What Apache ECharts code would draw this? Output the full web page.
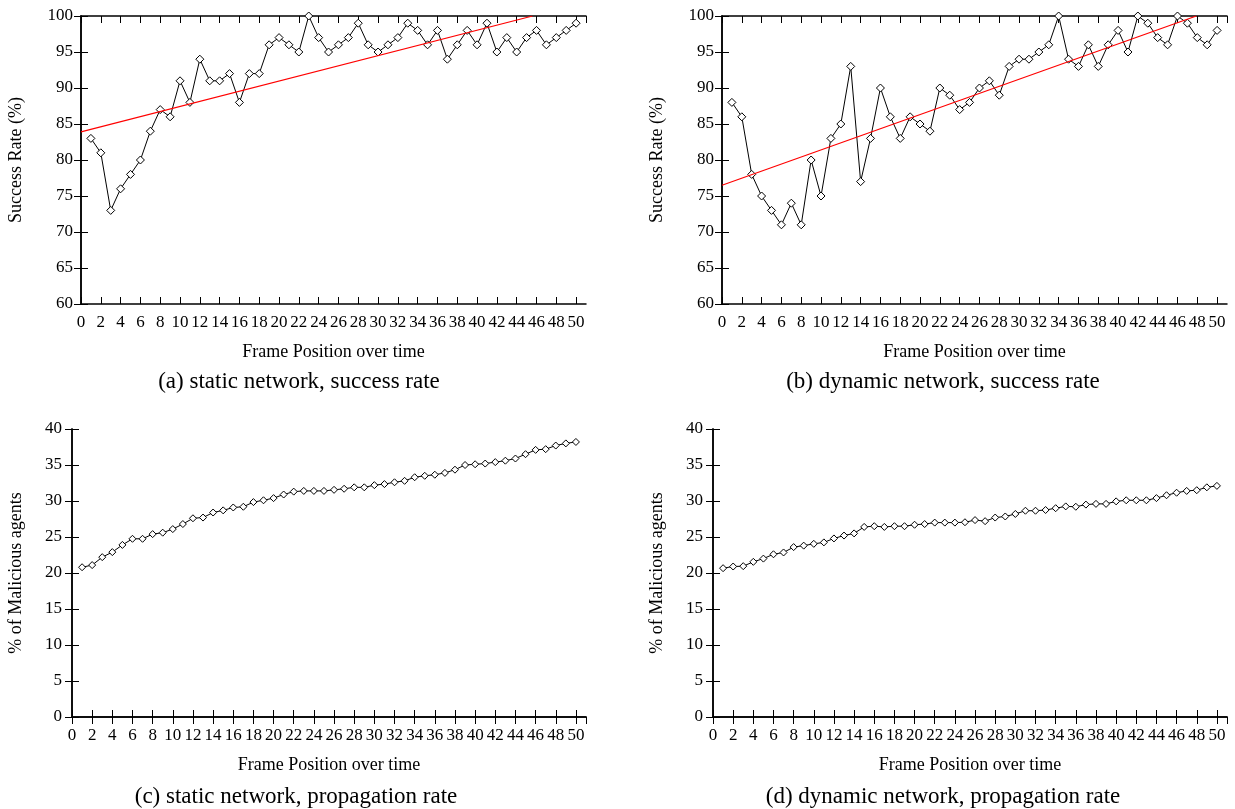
<!DOCTYPE html>
<html>
<head>
<meta charset="utf-8">
<title>Success and propagation rate</title>
<script src="https://cdn.jsdelivr.net/npm/echarts@6/dist/echarts.min.js"></script>
<style>
    html, body { margin: 0; padding: 0; background: #fff; }
    #chart { width: 1235px; height: 809px; }
</style>
</head>
<body>
<div id="chart"></div>
<script>
    // frame positions (x)
    var frames = [1, 2, 3, 4, 5, 6, 7, 8, 9, 10, 11, 12, 13, 14, 15, 16, 17, 18, 19, 20, 21, 22, 23, 24, 25,
        26, 27, 28, 29, 30, 31, 32, 33, 34, 35, 36, 37, 38, 39, 40, 41, 42, 43, 44, 45, 46, 47, 48, 49, 50];

    // (a) static network, success rate
    var staticSuccess = [83, 81, 73, 76, 78, 80, 84, 87, 86, 91, 88, 94, 91, 91, 92, 88, 92, 92, 96, 97, 96, 95, 100, 97, 95,
        96, 97, 99, 96, 95, 96, 97, 99, 98, 96, 98, 94, 96, 98, 96, 99, 95, 97, 95, 97, 98, 96, 97, 98, 99];
    var staticFit = [[0, 83.9], [45.6, 100]];

    // (b) dynamic network, success rate
    var dynamicSuccess = [88, 86, 78, 75, 73, 71, 74, 71, 80, 75, 83, 85, 93, 77, 83, 90, 86, 83, 86, 85, 84, 90, 89, 87, 88,
        90, 91, 89, 93, 94, 94, 95, 96, 100, 94, 93, 96, 93, 96, 98, 95, 100, 99, 97, 96, 100, 99, 97, 96, 98];
    var dynamicFit = [[0, 76.5], [47.9, 100]];

    // (c) static network, propagation rate
    var staticProp = [20.8, 21.1, 22.2, 22.9, 23.9, 24.75, 24.75, 25.4, 25.6, 26.1, 26.8, 27.6, 27.7, 28.4, 28.7, 29.1, 29.2,
        29.85, 30.1, 30.4, 30.9, 31.3, 31.4, 31.4, 31.4, 31.55, 31.7, 31.9, 31.9, 32.2, 32.35, 32.6, 32.8, 33.3, 33.5,
        33.65, 33.9, 34.35, 35.0, 35.1, 35.2, 35.4, 35.6, 35.9, 36.5, 37.1, 37.2, 37.7, 38.0, 38.2];

    // (d) dynamic network, propagation rate
    var dynamicProp = [20.67, 20.9, 20.95, 21.55, 22.0, 22.6, 22.85, 23.6, 23.8, 24.05, 24.25, 24.8, 25.2, 25.5, 26.4, 26.5,
        26.4, 26.5, 26.5, 26.7, 26.8, 27.0, 27.0, 27.0, 27.05, 27.35, 27.2, 27.7, 27.85, 28.2, 28.65, 28.65, 28.75, 29.0,
        29.25, 29.2, 29.5, 29.6, 29.6, 29.95, 30.1, 30.1, 30.1, 30.4, 30.8, 31.15, 31.4, 31.5, 31.9, 32.1];

    var captions = [
        '(a) static network, success rate',
        '(b) dynamic network, success rate',
        '(c) static network, propagation rate',
        '(d) dynamic network, propagation rate'
    ];
    var xName = 'Frame Position over time';
    var yNames = ['Success Rate (%)', 'Success Rate (%)', '% of Malicious agents', '% of Malicious agents'];

    var font = 'Liberation Serif';

    function pairs(xs, ys) {
        return xs.map(function (x, i) { return [x, ys[i]]; });
    }

    // panel layout: grid box, y range, name gaps, marker size
    var panels = [
        {grid: {left: 81, top: 16, width: 505, height: 288}, ymin: 60, ymax: 100, yGap: 56, yMargin: 8, sym: 8, cap: [299, 382]},
        {grid: {left: 722, top: 16, width: 505, height: 288}, ymin: 60, ymax: 100, yGap: 56, yMargin: 8, sym: 8, cap: [943, 382]},
        {grid: {left: 72, top: 429, width: 514, height: 288}, ymin: 0, ymax: 40, yGap: 47, yMargin: 10, sym: 7, cap: [296, 797]},
        {grid: {left: 713, top: 429, width: 514, height: 288}, ymin: 0, ymax: 40, yGap: 47, yMargin: 10, sym: 7, cap: [943, 797]}
    ];

    var lineData = [staticSuccess, dynamicSuccess, staticProp, dynamicProp];
    var fitData = [staticFit, dynamicFit, null, null];

    var axisLine = {show: true, lineStyle: {color: '#000', width: 1.5}};
    var tick = {show: true, inside: true, length: 7, lineStyle: {color: '#000', width: 1}};
    var labelFont = {color: '#000', fontFamily: font, fontSize: 17};

    var grids = [], xAxes = [], yAxes = [], series = [], graphics = [];

    panels.forEach(function (p, i) {
        grids.push(p.grid);
        // bottom + mirrored top x axis
        xAxes.push({
            type: 'value', gridIndex: i, position: 'bottom', min: 0, max: 51, interval: 2,
            axisLine: axisLine, axisTick: tick, splitLine: {show: false},
            axisLabel: Object.assign({margin: 10, showMaxLabel: false}, labelFont),
            name: xName, nameLocation: 'middle', nameGap: 39,
            nameTextStyle: {color: '#000', fontFamily: font, fontSize: 18}
        });
        xAxes.push({
            type: 'value', gridIndex: i, position: 'top', min: 0, max: 51, interval: 2,
            axisLine: axisLine, axisTick: tick, splitLine: {show: false}, axisLabel: {show: false}
        });
        // left + mirrored right y axis
        yAxes.push({
            type: 'value', gridIndex: i, position: 'left', min: p.ymin, max: p.ymax, interval: 5,
            axisLine: axisLine, axisTick: tick, splitLine: {show: false},
            axisLabel: Object.assign({margin: p.yMargin}, labelFont),
            name: yNames[i], nameLocation: 'middle', nameGap: p.yGap,
            nameTextStyle: {color: '#000', fontFamily: font, fontSize: 18}
        });
        yAxes.push({
            type: 'value', gridIndex: i, position: 'right', min: p.ymin, max: p.ymax, interval: 5,
            axisLine: axisLine, axisTick: tick, splitLine: {show: false}, axisLabel: {show: false}
        });

        series.push({
            type: 'line', xAxisIndex: 2 * i, yAxisIndex: 2 * i,
            data: pairs(frames, lineData[i]),
            symbol: 'diamond', symbolSize: p.sym, showAllSymbol: true,
            lineStyle: {color: '#000', width: 1},
            itemStyle: {color: '#fff', borderColor: '#000', borderWidth: 1},
            animation: false, z: 3
        });
        if (fitData[i]) {
            series.push({
                type: 'line', xAxisIndex: 2 * i, yAxisIndex: 2 * i,
                data: fitData[i], symbol: 'none',
                lineStyle: {color: '#ff0000', width: 1.2},
                animation: false, z: 4
            });
        }

        graphics.push({
            type: 'text', x: p.cap[0], y: p.cap[1],
            style: {
                text: captions[i], align: 'center', verticalAlign: 'middle',
                font: '23px "' + font + '"', fill: '#000'
            }
        });
    });

    var myChart = echarts.init(document.getElementById('chart'));
    myChart.setOption({
        backgroundColor: '#fff',
        animation: false,
        grid: grids,
        xAxis: xAxes,
        yAxis: yAxes,
        series: series,
        graphic: graphics
    });
</script>
</body>
</html>
